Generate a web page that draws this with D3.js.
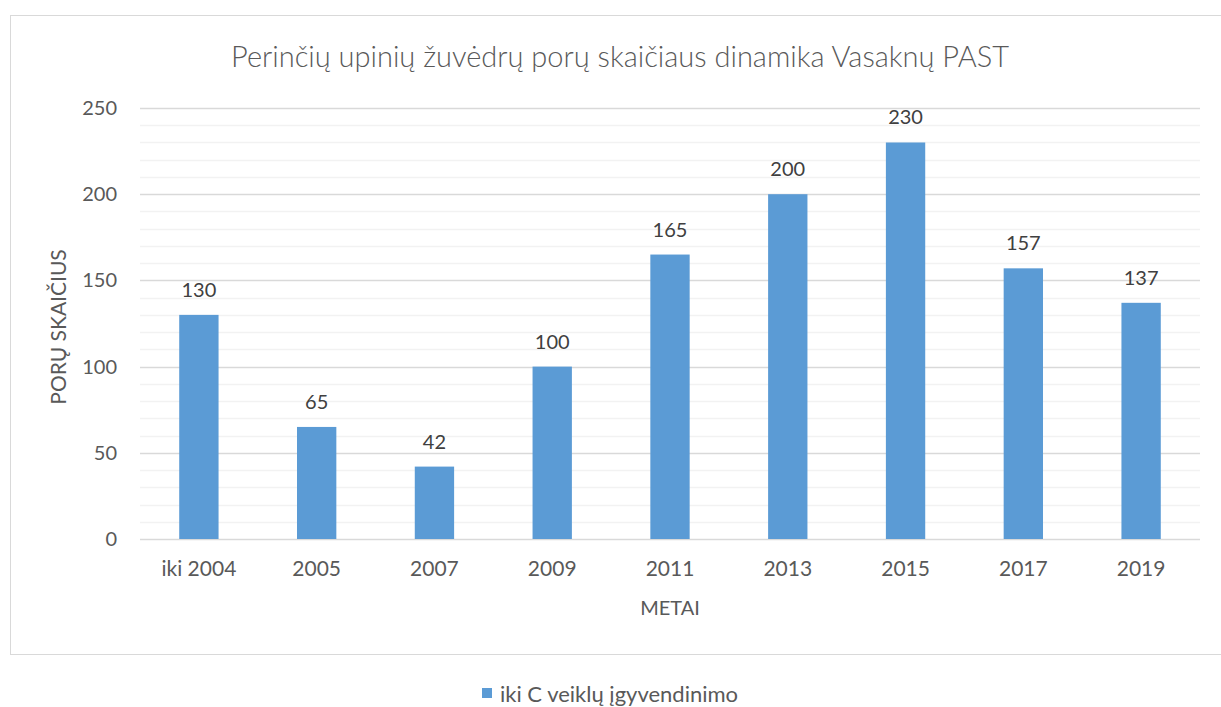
<!DOCTYPE html>
<html>
<head>
<meta charset="utf-8">
<script src="https://cdn.jsdelivr.net/npm/d3@7"></script>
<style>
  body { margin: 0; background: #fff; }
  text { font-family: Lato, "Open Sans", sans-serif; }
</style>
</head>
<body>
<div id="chart"></div>
<script>
var width = 1221;
var height = 707;

var categories = ["iki 2004", "2005", "2007", "2009", "2011", "2013", "2015", "2017", "2019"];
var values = [130, 65, 42, 100, 165, 200, 230, 157, 137];
var yTicks = [0, 50, 100, 150, 200, 250];
var seriesName = "iki C veiklų įgyvendinimo";

var svg = d3.select("#chart").append("svg")
    .attr("width", width)
    .attr("height", height);

// chart border
svg.append("rect")
    .attr("x", 10.5).attr("y", 15.5)
    .attr("width", 1230).attr("height", 639)
    .attr("fill", "#fff")
    .attr("stroke", "#d9d9d9");

var xScale = d3.scaleBand().domain(categories).range([140, 1200]);
var yScale = d3.scaleLinear().domain([0, 250]).range([539, 108]);

// minor gridlines
svg.append("g").selectAll("line")
    .data(d3.range(10, 250, 10).filter(function(d) { return d % 50 != 0; }))
    .enter().append("line")
    .attr("x1", 140).attr("x2", 1200)
    .attr("y1", function(d) { return Math.round(yScale(d)) + 0.5; })
    .attr("y2", function(d) { return Math.round(yScale(d)) + 0.5; })
    .attr("stroke", "#f2f2f2").attr("stroke-width", 1.5);

// major gridlines
svg.append("g").selectAll("line")
    .data(yTicks)
    .enter().append("line")
    .attr("x1", 140).attr("x2", 1200)
    .attr("y1", function(d) { return Math.round(yScale(d)) + 0.5; })
    .attr("y2", function(d) { return Math.round(yScale(d)) + 0.5; })
    .attr("stroke", "#d9d9d9").attr("stroke-width", 1.5);

// bars
var barW = xScale.bandwidth() * 0.334;
svg.append("g").selectAll("rect")
    .data(values)
    .enter().append("rect")
    .attr("x", function(d, i) { return xScale(categories[i]) + xScale.bandwidth() / 2 - barW / 2; })
    .attr("y", function(d) { return yScale(d); })
    .attr("width", barW)
    .attr("height", function(d) { return yScale(0) - yScale(d); })
    .attr("fill", "#5b9bd5");

// data labels
svg.append("g").selectAll("text")
    .data(values)
    .enter().append("text")
    .attr("x", function(d, i) { return xScale(categories[i]) + xScale.bandwidth() / 2; })
    .attr("y", function(d) { return yScale(d) - 18; })
    .attr("text-anchor", "middle")
    .attr("font-size", 20)
    .attr("fill", "#404040")
    .text(function(d) { return d; });

// y axis
var yAxis = d3.axisLeft(yScale).tickValues(yTicks).tickSize(0).tickPadding(0);
var yG = svg.append("g")
    .attr("transform", "translate(117,0)")
    .call(yAxis);
yG.select(".domain").remove();
yG.selectAll("text")
    .attr("font-size", 20)
    .attr("fill", "#595959")
    .style("font-family", "Lato, 'Open Sans', sans-serif");

// x axis
var xAxis = d3.axisBottom(xScale).tickSize(0).tickPadding(0);
var xG = svg.append("g")
    .attr("transform", "translate(0,561)")
    .call(xAxis);
xG.select(".domain").remove();
xG.selectAll("text")
    .attr("font-size", 21)
    .attr("fill", "#595959")
    .style("font-family", "Lato, 'Open Sans', sans-serif");

// title
svg.append("text")
    .attr("x", 620).attr("y", 67)
    .attr("text-anchor", "middle")
    .attr("font-size", 29)
    .attr("font-weight", 300)
    .attr("fill", "#595959")
    .text("Perinčių upinių žuvėdrų porų skaičiaus dinamika Vasaknų PAST");

// axis titles
svg.append("text")
    .attr("class", "label")
    .attr("transform", "translate(66,327) rotate(-90)")
    .attr("text-anchor", "middle")
    .attr("font-size", 21)
    .attr("fill", "#595959")
    .text("PORŲ SKAIČIUS");

svg.append("text")
    .attr("class", "label")
    .attr("x", 670).attr("y", 615)
    .attr("text-anchor", "middle")
    .attr("font-size", 20)
    .attr("fill", "#595959")
    .text("METAI");

// legend
var legendG = svg.append("g").attr("transform", "translate(482,688)");
legendG.append("rect")
    .attr("width", 10).attr("height", 10)
    .attr("fill", "#5b9bd5");
legendG.append("text")
    .attr("x", 18).attr("y", 14)
    .attr("font-size", 22)
    .attr("fill", "#595959")
    .text(seriesName);
</script>
</body>
</html>
